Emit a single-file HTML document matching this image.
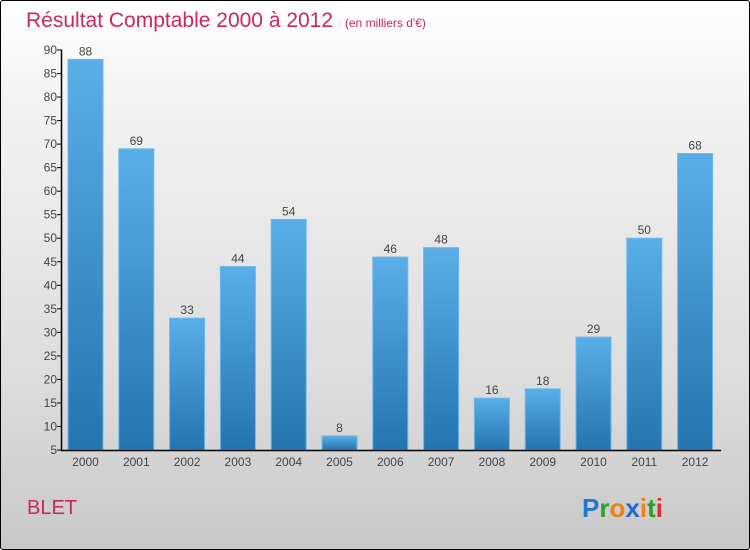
<!DOCTYPE html>
<html><head><meta charset="utf-8"><style>
body{margin:0;width:750px;height:550px;overflow:hidden;font-family:"Liberation Sans","DejaVu Sans",sans-serif}
#c{position:absolute;left:0;top:0;width:748px;height:548px;border:1px solid #000;border-radius:3px;background:linear-gradient(#ffffff,#f4f4f4 15%,#dcdcdc 70%,#c8c8c8)}
</style></head><body>
<div id="c"></div>
<svg id="s" width="750" height="550" style="position:absolute;left:0;top:0">
<defs><linearGradient id="g" x1="0" y1="0" x2="0" y2="1"><stop offset="0" stop-color="#5aaee8"/><stop offset="1" stop-color="#2474b0"/></linearGradient></defs>
<text x="26" y="27" font-size="21" fill="#c8285a">Résultat Comptable 2000 à 2012 <tspan font-size="12" dx="6">(en milliers d'€)</tspan></text>
<text x="27" y="514" font-size="20" fill="#c8285a">BLET</text>
<text x="582" y="517" font-size="26" font-weight="bold"><tspan fill="#1a7ad0">P</tspan><tspan fill="#2aa02a">r</tspan><tspan fill="#f08010">o</tspan><tspan fill="#1a6ad0">x</tspan><tspan fill="#f08010">i</tspan><tspan fill="#2aa02a">t</tspan><tspan fill="#e03030">i</tspan></text>
<g id="plot"></g>
</svg>
<script>
const categories=["2000","2001","2002","2003","2004","2005","2006","2007","2008","2009","2010","2011","2012"];
const values=[88,69,33,44,54,8,46,48,16,18,29,50,68];
const yTicks=[5,10,15,20,25,30,35,40,45,50,55,60,65,70,75,80,85,90];
const NS="http://www.w3.org/2000/svg";
const g=document.getElementById('plot');
const y=v=>450-(v-5)*400/85;
const x=i=>85.5+i*50.8;
function el(t,a,txt){const e=document.createElementNS(NS,t);for(const k in a)e.setAttribute(k,a[k]);if(txt!=null)e.textContent=txt;g.appendChild(e);return e;}
values.forEach((v,i)=>{
 const r=el('rect',{x:x(i)-17.5,y:y(v),width:35,height:450-y(v),fill:'url(#g)',stroke:'#6ab8ee','stroke-width':1});
 
 
 const t=el('text',{x:x(i),y:y(v)-4,'text-anchor':'middle','font-size':12,fill:'#444'},String(v));
 
 
 const c=el('text',{x:x(i),y:466,'text-anchor':'middle','font-size':12,fill:'#444'},categories[i]);
 
 
});
yTicks.forEach(v=>{
 const l=el('line',{x1:57,x2:62,y1:y(v),y2:y(v),stroke:'#000'});
 
 
 const t=el('text',{x:57,y:y(v)+4,'text-anchor':'end','font-size':12,fill:'#444'},String(v));
 
 
});
const ya=el('line',{x1:61.5,x2:61.5,y1:y(90),y2:451,stroke:'#000','stroke-width':1.5});


const xa=el('line',{x1:61,x2:721,y1:450.5,y2:450.5,stroke:'#000','stroke-width':1.5});


</script>
</body></html>
